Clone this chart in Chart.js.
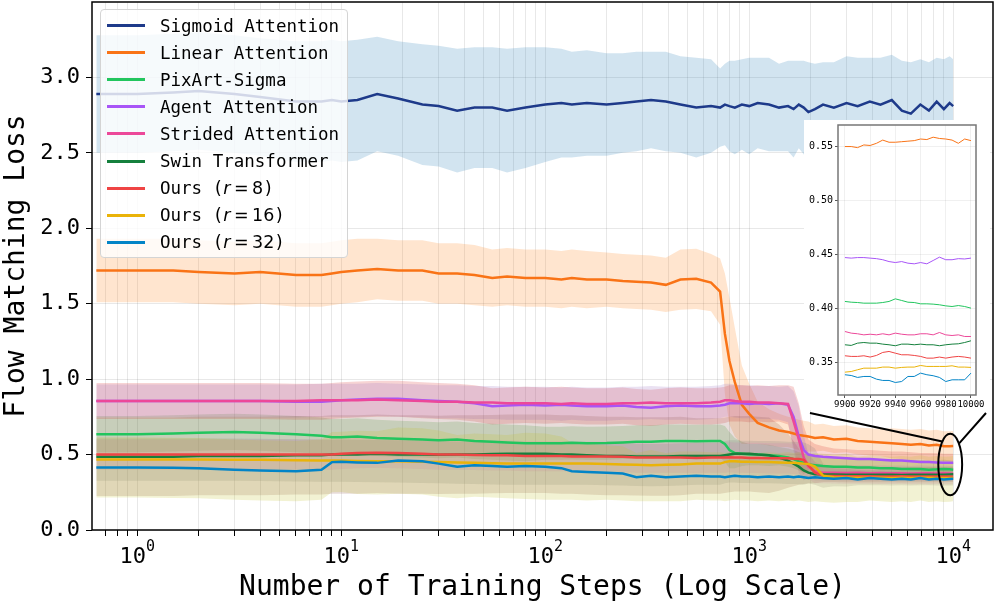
<!DOCTYPE html>
<html>
<head>
<meta charset="utf-8">
<script src="https://cdn.jsdelivr.net/npm/chart.js@4.4.1/dist/chart.umd.min.js"></script>
<style>
  body { margin: 0; background: #fff; }
  #wrap { position: relative; width: 997px; height: 606px; font-family: "DejaVu Sans Mono", monospace; }
  #main { position: absolute; left: 0; top: 0; }
  #inset { position: absolute; left: 804px; top: 120px; background: #fff; }
  #legend {
    position: absolute; left: 100px; top: 9px; width: 248px; height: 249px;
    box-sizing: border-box; border: 1px solid #d4d4d4; border-radius: 4px;
    background: rgba(255, 255, 255, 0.8); padding-top: 2px;
  }
  .item { height: 27.1px; display: flex; align-items: center; font-size: 17.5px; color: #000; white-space: pre; }
  .swatch { display: inline-block; width: 38px; height: 3px; margin-left: 6px; margin-right: 15px; }
  .m { font-family: "DejaVu Sans", sans-serif; }
</style>
</head>
<body>
<div id="wrap">
  <canvas id="main" width="997" height="606"></canvas>
  <canvas id="inset" width="186" height="290"></canvas>
  <div id="legend"></div>
</div>
<script>
const FONT = "'DejaVu Sans Mono', monospace";

const labels = ["Sigmoid Attention", "Linear Attention", "PixArt-Sigma", "Agent Attention",
  "Strided Attention", "Swin Transformer", "Ours (r = 8)", "Ours (r = 16)", "Ours (r = 32)"];
const lineColors = ["#1e3a8a", "#f97316", "#22c55e", "#a855f7", "#ec4899", "#15803d", "#ef4444", "#eab308", "#0284c7"];
// shaded std bands use the default tab10 cycle
const bandColors = ["rgba(31,119,180,0.2)", "rgba(255,127,14,0.2)", "rgba(44,160,44,0.2)", "rgba(214,39,40,0.2)",
  "rgba(148,103,189,0.2)", "rgba(140,86,75,0.2)", "rgba(227,119,194,0.2)", "rgba(127,127,127,0.2)", "rgba(188,189,34,0.2)"];

const steps = [0.63, 1, 1.5, 2, 3, 4, 6, 8, 9, 10,
  12, 15, 19, 25, 30, 37, 45, 55, 65, 80,
  100, 120, 135, 160, 200, 240, 280, 330, 390, 460,
  550, 650, 720, 760, 800, 850, 920, 1000, 1100, 1250,
  1400, 1550, 1650, 1750, 1850, 1950, 2100, 2300, 2600, 3000,
  3400, 3900, 4400, 5000, 5600, 6200, 6900, 7600, 8300, 9000,
  9600, 10000];

const sigmoidMean = [2.89, 2.89, 2.90, 2.91, 2.89, 2.87, 2.84, 2.84, 2.85, 2.84,
  2.85, 2.89, 2.86, 2.82, 2.81, 2.78, 2.80, 2.80, 2.78, 2.80,
  2.82, 2.83, 2.82, 2.83, 2.82, 2.83, 2.84, 2.85, 2.84, 2.82,
  2.80, 2.81, 2.80, 2.82, 2.81, 2.80, 2.82, 2.81, 2.83, 2.82,
  2.80, 2.81, 2.79, 2.82, 2.80, 2.77, 2.79, 2.82, 2.80, 2.83,
  2.81, 2.84, 2.82, 2.85, 2.78, 2.76, 2.82, 2.78, 2.84, 2.79,
  2.83, 2.81];
const sigmoidStd = [0.39, 0.39, 0.39, 0.39, 0.39, 0.39, 0.40, 0.40, 0.40, 0.40,
  0.40, 0.38, 0.38, 0.40, 0.40, 0.41, 0.40, 0.40, 0.41, 0.40,
  0.38, 0.36, 0.35, 0.35, 0.34, 0.33, 0.33, 0.32, 0.33, 0.32,
  0.33, 0.31, 0.26, 0.27, 0.30, 0.31, 0.30, 0.32, 0.30, 0.31,
  0.29, 0.30, 0.32, 0.29, 0.31, 0.33, 0.30, 0.28, 0.30, 0.31,
  0.32, 0.29, 0.31, 0.30, 0.33, 0.34, 0.30, 0.32, 0.29, 0.33,
  0.31, 0.31];

const linearMean = [1.72, 1.72, 1.72, 1.71, 1.70, 1.71, 1.69, 1.69, 1.70, 1.71,
  1.72, 1.73, 1.72, 1.72, 1.70, 1.70, 1.69, 1.67, 1.68, 1.67,
  1.67, 1.66, 1.67, 1.66, 1.66, 1.65, 1.645, 1.64, 1.625, 1.66,
  1.665, 1.64, 1.58, 1.30, 1.12, 0.98, 0.83, 0.77, 0.71, 0.68,
  0.66, 0.65, 0.64, 0.63, 0.625, 0.62, 0.61, 0.615, 0.60, 0.605,
  0.59, 0.585, 0.58, 0.575, 0.57, 0.565, 0.57, 0.56, 0.565, 0.555,
  0.555, 0.556];
const linearStd = [0.21, 0.21, 0.21, 0.21, 0.21, 0.21, 0.21, 0.21, 0.21, 0.21,
  0.21, 0.20, 0.20, 0.20, 0.20, 0.20, 0.20, 0.19, 0.19, 0.19,
  0.19, 0.19, 0.19, 0.19, 0.18, 0.18, 0.18, 0.18, 0.18, 0.20,
  0.20, 0.19, 0.22, 0.40, 0.42, 0.36, 0.26, 0.20, 0.14, 0.12,
  0.11, 0.10, 0.10, 0.10, 0.10, 0.10, 0.09, 0.09, 0.09, 0.09,
  0.09, 0.09, 0.09, 0.10, 0.10, 0.10, 0.10, 0.10, 0.10, 0.10,
  0.10, 0.10];

const pixartMean = [0.635, 0.635, 0.64, 0.645, 0.65, 0.645, 0.635, 0.625, 0.615, 0.615,
  0.62, 0.61, 0.605, 0.60, 0.595, 0.60, 0.59, 0.585, 0.58, 0.575,
  0.575, 0.575, 0.578, 0.575, 0.576, 0.58, 0.585, 0.585, 0.59, 0.59,
  0.588, 0.59, 0.59, 0.57, 0.53, 0.51, 0.505, 0.50, 0.50, 0.495,
  0.49, 0.48, 0.47, 0.455, 0.445, 0.435, 0.43, 0.425, 0.42, 0.42,
  0.415, 0.415, 0.41, 0.41, 0.405, 0.405, 0.405, 0.40, 0.402, 0.405,
  0.402, 0.40];
const pixartStd = [0.12, 0.12, 0.12, 0.12, 0.12, 0.12, 0.12, 0.12, 0.12, 0.12,
  0.12, 0.12, 0.12, 0.12, 0.12, 0.12, 0.12, 0.12, 0.12, 0.12,
  0.11, 0.11, 0.11, 0.11, 0.11, 0.11, 0.11, 0.11, 0.11, 0.11,
  0.11, 0.11, 0.11, 0.12, 0.12, 0.10, 0.08, 0.07, 0.07, 0.07,
  0.06, 0.06, 0.06, 0.06, 0.06, 0.06, 0.06, 0.06, 0.06, 0.06,
  0.06, 0.06, 0.06, 0.06, 0.06, 0.06, 0.06, 0.06, 0.06, 0.06,
  0.06, 0.06];

const agentMean = [0.855, 0.855, 0.855, 0.855, 0.855, 0.855, 0.85, 0.85, 0.855, 0.86,
  0.865, 0.87, 0.87, 0.86, 0.855, 0.85, 0.84, 0.82, 0.825, 0.83,
  0.825, 0.83, 0.825, 0.82, 0.82, 0.825, 0.815, 0.81, 0.82, 0.825,
  0.82, 0.82, 0.825, 0.83, 0.84, 0.84, 0.84, 0.835, 0.84, 0.835,
  0.84, 0.83, 0.75, 0.62, 0.53, 0.50, 0.49, 0.485, 0.48, 0.475,
  0.47, 0.47, 0.465, 0.46, 0.46, 0.455, 0.45, 0.45, 0.448, 0.446,
  0.445, 0.446];
const agentStd = [0.12, 0.12, 0.12, 0.12, 0.12, 0.12, 0.12, 0.12, 0.12, 0.12,
  0.12, 0.12, 0.12, 0.12, 0.12, 0.12, 0.12, 0.12, 0.12, 0.12,
  0.12, 0.12, 0.12, 0.12, 0.12, 0.12, 0.12, 0.12, 0.12, 0.12,
  0.12, 0.12, 0.12, 0.12, 0.12, 0.12, 0.12, 0.12, 0.12, 0.12,
  0.12, 0.13, 0.20, 0.22, 0.16, 0.10, 0.08, 0.07, 0.06, 0.06,
  0.06, 0.06, 0.06, 0.06, 0.06, 0.06, 0.06, 0.06, 0.06, 0.06,
  0.06, 0.06];

const stridedMean = [0.855, 0.855, 0.855, 0.855, 0.855, 0.855, 0.855, 0.86, 0.86, 0.86,
  0.86, 0.865, 0.86, 0.855, 0.85, 0.85, 0.845, 0.845, 0.84, 0.84,
  0.84, 0.835, 0.84, 0.835, 0.835, 0.84, 0.84, 0.845, 0.84, 0.84,
  0.84, 0.845, 0.85, 0.86, 0.86, 0.855, 0.85, 0.85, 0.845, 0.845,
  0.84, 0.835, 0.72, 0.60, 0.48, 0.42, 0.39, 0.38, 0.38, 0.378,
  0.38, 0.377, 0.378, 0.376, 0.377, 0.375, 0.377, 0.376, 0.375, 0.376,
  0.374, 0.373];
const stridedStd = [0.11, 0.11, 0.11, 0.11, 0.11, 0.11, 0.11, 0.11, 0.11, 0.11,
  0.11, 0.11, 0.11, 0.11, 0.11, 0.11, 0.11, 0.11, 0.11, 0.11,
  0.11, 0.11, 0.11, 0.11, 0.11, 0.11, 0.11, 0.11, 0.11, 0.11,
  0.11, 0.11, 0.11, 0.11, 0.11, 0.11, 0.11, 0.11, 0.11, 0.11,
  0.11, 0.12, 0.20, 0.22, 0.15, 0.08, 0.06, 0.05, 0.05, 0.05,
  0.05, 0.05, 0.05, 0.05, 0.05, 0.05, 0.05, 0.05, 0.05, 0.05,
  0.05, 0.05];

const swinMean = [0.485, 0.485, 0.485, 0.49, 0.49, 0.49, 0.495, 0.495, 0.50, 0.50,
  0.50, 0.505, 0.50, 0.50, 0.498, 0.50, 0.50, 0.503, 0.505, 0.505,
  0.505, 0.50, 0.50, 0.495, 0.49, 0.49, 0.488, 0.487, 0.487, 0.49,
  0.49, 0.49, 0.49, 0.495, 0.50, 0.505, 0.505, 0.505, 0.50, 0.495,
  0.48, 0.46, 0.44, 0.42, 0.395, 0.38, 0.37, 0.368, 0.368, 0.367,
  0.366, 0.367, 0.366, 0.366, 0.365, 0.366, 0.366, 0.367, 0.366, 0.366,
  0.368, 0.369];
const swinStd = [0.26, 0.26, 0.26, 0.26, 0.26, 0.26, 0.26, 0.26, 0.26, 0.26,
  0.26, 0.26, 0.26, 0.26, 0.26, 0.26, 0.26, 0.26, 0.26, 0.26,
  0.26, 0.26, 0.26, 0.26, 0.26, 0.26, 0.26, 0.26, 0.26, 0.26,
  0.25, 0.25, 0.25, 0.25, 0.25, 0.25, 0.25, 0.25, 0.25, 0.25,
  0.22, 0.18, 0.15, 0.12, 0.09, 0.07, 0.06, 0.05, 0.05, 0.05,
  0.05, 0.05, 0.05, 0.05, 0.05, 0.05, 0.05, 0.05, 0.05, 0.05,
  0.05, 0.05];

const ours8Mean = [0.50, 0.50, 0.50, 0.50, 0.50, 0.50, 0.50, 0.50, 0.50, 0.505,
  0.51, 0.512, 0.51, 0.505, 0.50, 0.50, 0.497, 0.495, 0.495, 0.49,
  0.49, 0.49, 0.488, 0.487, 0.487, 0.485, 0.48, 0.48, 0.48, 0.48,
  0.478, 0.48, 0.48, 0.48, 0.482, 0.48, 0.48, 0.478, 0.478, 0.475,
  0.475, 0.475, 0.472, 0.47, 0.465, 0.43, 0.38, 0.36, 0.358, 0.357,
  0.356, 0.357, 0.355, 0.355, 0.356, 0.354, 0.355, 0.354, 0.355, 0.354,
  0.354, 0.353];
const ours8Std = [0.10, 0.10, 0.10, 0.10, 0.10, 0.10, 0.10, 0.10, 0.10, 0.10,
  0.10, 0.10, 0.10, 0.10, 0.10, 0.10, 0.10, 0.10, 0.10, 0.10,
  0.10, 0.10, 0.10, 0.10, 0.10, 0.10, 0.10, 0.10, 0.10, 0.10,
  0.10, 0.10, 0.10, 0.10, 0.10, 0.10, 0.10, 0.10, 0.10, 0.10,
  0.10, 0.10, 0.10, 0.10, 0.10, 0.09, 0.07, 0.05, 0.05, 0.05,
  0.05, 0.05, 0.05, 0.05, 0.05, 0.05, 0.05, 0.05, 0.05, 0.05,
  0.05, 0.05];

const ours16Mean = [0.467, 0.467, 0.467, 0.467, 0.466, 0.465, 0.462, 0.46, 0.46, 0.46,
  0.458, 0.456, 0.455, 0.452, 0.45, 0.447, 0.445, 0.442, 0.44, 0.44,
  0.44, 0.44, 0.44, 0.44, 0.437, 0.435, 0.432, 0.43, 0.432, 0.435,
  0.44, 0.44, 0.44, 0.45, 0.455, 0.455, 0.452, 0.452, 0.45, 0.45,
  0.448, 0.445, 0.445, 0.443, 0.44, 0.438, 0.42, 0.36, 0.35, 0.348,
  0.347, 0.346, 0.346, 0.345, 0.346, 0.345, 0.346, 0.346, 0.345, 0.345,
  0.345, 0.345];
const ours16Std = [0.14, 0.14, 0.14, 0.14, 0.14, 0.14, 0.14, 0.14, 0.14, 0.14,
  0.14, 0.14, 0.14, 0.14, 0.14, 0.14, 0.14, 0.14, 0.14, 0.14,
  0.14, 0.14, 0.14, 0.14, 0.14, 0.14, 0.14, 0.14, 0.14, 0.14,
  0.14, 0.14, 0.14, 0.14, 0.14, 0.14, 0.14, 0.14, 0.14, 0.14,
  0.14, 0.14, 0.14, 0.14, 0.14, 0.13, 0.12, 0.08, 0.06, 0.06,
  0.05, 0.05, 0.05, 0.05, 0.05, 0.05, 0.05, 0.05, 0.05, 0.05,
  0.05, 0.05];

const ours32Mean = [0.415, 0.415, 0.412, 0.41, 0.40, 0.395, 0.39, 0.40, 0.45, 0.452,
  0.448, 0.445, 0.46, 0.455, 0.44, 0.42, 0.43, 0.425, 0.42, 0.425,
  0.42, 0.41, 0.39, 0.385, 0.38, 0.375, 0.35, 0.36, 0.35, 0.355,
  0.36, 0.355, 0.355, 0.35, 0.355, 0.36, 0.355, 0.355, 0.35, 0.355,
  0.35, 0.355, 0.35, 0.355, 0.35, 0.345, 0.35, 0.345, 0.34, 0.345,
  0.335, 0.345, 0.34, 0.335, 0.34, 0.335, 0.345, 0.335, 0.34, 0.335,
  0.338, 0.34];
const ours32Std = [0.20, 0.20, 0.20, 0.20, 0.20, 0.20, 0.20, 0.20, 0.20, 0.20,
  0.21, 0.21, 0.22, 0.22, 0.22, 0.21, 0.21, 0.21, 0.21, 0.22,
  0.22, 0.21, 0.19, 0.19, 0.18, 0.18, 0.16, 0.17, 0.16, 0.165,
  0.16, 0.16, 0.16, 0.16, 0.16, 0.16, 0.16, 0.16, 0.16, 0.16,
  0.16, 0.16, 0.16, 0.16, 0.16, 0.16, 0.16, 0.16, 0.16, 0.16,
  0.15, 0.15, 0.15, 0.15, 0.15, 0.15, 0.15, 0.15, 0.15, 0.15,
  0.15, 0.15];

const means = [sigmoidMean, linearMean, pixartMean, agentMean, stridedMean, swinMean, ours8Mean, ours16Mean, ours32Mean];
const stds = [sigmoidStd, linearStd, pixartStd, agentStd, stridedStd, swinStd, ours8Std, ours16Std, ours32Std];

// zoomed inset: last 100 steps (no sigmoid)
const insetSteps = [9900, 9905, 9910, 9915, 9920, 9925, 9930, 9935, 9940, 9945, 9950,
  9955, 9960, 9965, 9970, 9975, 9980, 9985, 9990, 9995, 10000];
const insetLinear = [0.550, 0.550, 0.549, 0.5515, 0.551, 0.553, 0.556, 0.554, 0.554, 0.5545, 0.555,
  0.5555, 0.557, 0.5565, 0.5587, 0.5575, 0.557, 0.556, 0.553, 0.557, 0.5555];
const insetPixart = [0.4063, 0.4056, 0.4053, 0.4047, 0.4047, 0.4047, 0.4053, 0.4063, 0.4087, 0.4072, 0.4056,
  0.4053, 0.4041, 0.4041, 0.4038, 0.4032, 0.4022, 0.4016, 0.4025, 0.4016, 0.4001];
const insetAgent = [0.447, 0.4465, 0.447, 0.447, 0.4465, 0.446, 0.445, 0.4433, 0.4424, 0.4433, 0.4418,
  0.4412, 0.4424, 0.4412, 0.4443, 0.4474, 0.445, 0.445, 0.446, 0.4457, 0.4465];
const insetStrided = [0.3784, 0.3769, 0.3763, 0.3753, 0.3759, 0.3753, 0.3763, 0.3753, 0.3769, 0.3759, 0.3753,
  0.3753, 0.3763, 0.3763, 0.3753, 0.3775, 0.3753, 0.3747, 0.3753, 0.3738, 0.3738];
const insetSwin = [0.3661, 0.3655, 0.3676, 0.3682, 0.3676, 0.3676, 0.3667, 0.3661, 0.3652, 0.3667, 0.3667,
  0.3661, 0.3667, 0.3661, 0.3661, 0.3652, 0.3661, 0.3667, 0.367, 0.3682, 0.3698];
const insetOurs8 = [0.3559, 0.3553, 0.3553, 0.3559, 0.3547, 0.3562, 0.359, 0.3599, 0.3583, 0.3568, 0.3568,
  0.3562, 0.3553, 0.3537, 0.3537, 0.3547, 0.3537, 0.3547, 0.3553, 0.3547, 0.3537];
const insetOurs16 = [0.3407, 0.3413, 0.3429, 0.3444, 0.3444, 0.3444, 0.3454, 0.3454, 0.3444, 0.3451, 0.3454,
  0.3454, 0.3469, 0.346, 0.346, 0.346, 0.346, 0.3466, 0.3454, 0.3454, 0.3451];
const insetOurs32 = [0.3383, 0.3376, 0.3358, 0.3367, 0.3367, 0.3342, 0.333, 0.333, 0.3311, 0.332, 0.3367,
  0.3367, 0.3398, 0.3383, 0.3374, 0.3358, 0.332, 0.3336, 0.3336, 0.3336, 0.3398];
const insetSeries = [insetLinear, insetPixart, insetAgent, insetStrided, insetSwin, insetOurs8, insetOurs16, insetOurs32];

// region circled on the main plot
const zoomRegion = { stepLo: 8450, stepHi: 11060, lossLo: 0.23, lossHi: 0.638 };

const xMin = 0.631, xMax = 15670;
const xTickValues = [];
for (let k = -1; k <= 4; k++) {
  for (let m = 1; m <= 9; m++) {
    const v = m * Math.pow(10, k);
    if (v >= xMin && v <= xMax) xTickValues.push(v);
  }
}
const yTickValues = [0, 0.5, 1.0, 1.5, 2.0, 2.5, 3.0];

const datasets = [];
labels.forEach((name, i) => {
  datasets.push({
    label: name,
    data: steps.map((s, j) => ({ x: s, y: means[i][j] })),
    borderColor: lineColors[i],
    borderWidth: 2.5,
    pointRadius: 0,
    tension: 0,
    fill: false,
    order: 8 - i
  });
});
labels.forEach((name, i) => {
  datasets.push({
    label: name + " std", band: true,
    data: steps.map((s, j) => ({ x: s, y: means[i][j] + stds[i][j] })),
    borderColor: "rgba(0,0,0,0)", borderWidth: 0, pointRadius: 0,
    backgroundColor: bandColors[i], fill: "+1", order: 100 - i
  });
  datasets.push({
    label: name + " std low", band: true,
    data: steps.map((s, j) => ({ x: s, y: means[i][j] - stds[i][j] })),
    borderColor: "rgba(0,0,0,0)", borderWidth: 0, pointRadius: 0,
    fill: false, order: 100 - i
  });
});

const framePlugin = {
  id: "frame",
  afterDatasetsDraw(chart, args, opts) {
    const { ctx, chartArea: a } = chart;
    ctx.save();
    ctx.strokeStyle = opts.color || "#000";
    ctx.lineWidth = opts.width || 1.5;
    ctx.strokeRect(a.left, a.top, a.right - a.left, a.bottom - a.top);
    ctx.restore();
  }
};

// decade labels like matplotlib's 10^k with a raised, smaller exponent
const decadeLabels = {
  id: "decadeLabels",
  afterDraw(chart) {
    const { ctx, scales: { x } } = chart;
    ctx.save();
    ctx.fillStyle = "#000";
    ctx.textBaseline = "alphabetic";
    ctx.textAlign = "left";
    xTickValues.forEach((v) => {
      const k = Math.round(Math.log10(v));
      if (Math.abs(Math.log10(v) - k) > 1e-9) return;
      const px = x.getPixelForValue(v);
      ctx.font = "22px " + FONT;
      const wb = ctx.measureText("10").width;
      ctx.font = "15px " + FONT;
      const we = ctx.measureText(String(k)).width;
      const start = px - (wb + we) / 2;
      ctx.font = "22px " + FONT;
      ctx.fillText("10", start, 563);
      ctx.font = "15px " + FONT;
      ctx.fillText(String(k), start + wb, 551);
    });
    ctx.restore();
  }
};

const insetCanvas = document.getElementById("inset");

const zoomMarkPlugin = {
  id: "zoomMark",
  afterDraw(chart) {
    const { ctx, scales: { x, y } } = chart;
    const x0 = x.getPixelForValue(zoomRegion.stepLo), x1 = x.getPixelForValue(zoomRegion.stepHi);
    const y0 = y.getPixelForValue(zoomRegion.lossHi), y1 = y.getPixelForValue(zoomRegion.lossLo);
    const cx = (x0 + x1) / 2, cy = (y0 + y1) / 2, rx = (x1 - x0) / 2, ry = (y1 - y0) / 2;
    ctx.save();
    ctx.strokeStyle = "#000";
    ctx.lineWidth = 2;
    ctx.beginPath();
    ctx.ellipse(cx, cy, rx, ry, 0, 0, Math.PI * 2);
    ctx.stroke();
    const bottom = insetCanvas.offsetTop + insetCanvas.offsetHeight + 3;
    const leftPt = [cx + rx * Math.cos(-2.3), cy + ry * Math.sin(-2.3)];
    const rightPt = [cx + rx * Math.cos(-0.75), cy + ry * Math.sin(-0.75)];
    ctx.beginPath();
    ctx.moveTo(insetCanvas.offsetLeft + 6, bottom);
    ctx.lineTo(leftPt[0], leftPt[1]);
    ctx.moveTo(insetCanvas.offsetLeft + insetCanvas.offsetWidth - 4, bottom);
    ctx.lineTo(rightPt[0], rightPt[1]);
    ctx.stroke();
    ctx.restore();
  }
};

const main = new Chart(document.getElementById("main"), {
  type: "line",
  data: { datasets: datasets },
  options: {
    responsive: false,
    animation: false,
    layout: { padding: { top: 2, right: 4, left: 0, bottom: 0 } },
    plugins: {
      legend: { display: false },
      tooltip: { enabled: false },
      frame: { color: "#000", width: 1.5 }
    },
    scales: {
      x: {
        type: "logarithmic",
        min: xMin,
        max: xMax,
        afterBuildTicks: (s) => { s.ticks = xTickValues.map((v) => ({ value: v })); },
        afterFit: (s) => { s.height = 76; s.paddingLeft = 0; s.paddingRight = 0; },
        grid: { color: "rgba(0,0,0,0.09)", tickColor: "#000", tickLength: 6, lineWidth: 1 },
        border: { display: false },
        ticks: { autoSkip: false, maxRotation: 0, padding: 2, callback: () => "" },
        title: {
          display: true, text: "Number of Training Steps (Log Scale)", color: "#000",
          font: { family: FONT, size: 28 }, padding: { top: 0, bottom: 1 }
        }
      },
      y: {
        min: 0,
        max: 3.5,
        afterBuildTicks: (s) => { s.ticks = yTickValues.map((v) => ({ value: v })); },
        afterFit: (s) => { s.width = 92; s.paddingTop = 0; s.paddingBottom = 0; },
        grid: { color: "rgba(0,0,0,0.09)", tickColor: "#000", tickLength: 6, lineWidth: 1 },
        border: { display: false },
        ticks: { padding: 6, color: "#000", font: { family: FONT, size: 22 }, callback: (v) => v.toFixed(1) },
        title: {
          display: true, text: "Flow Matching Loss", color: "#000",
          font: { family: FONT, size: 28 }, padding: { top: 0, bottom: 0 }
        }
      }
    }
  },
  plugins: [framePlugin, decadeLabels, zoomMarkPlugin]
});

// legend inside the plot, upper left
const legendEl = document.getElementById("legend");
main.data.datasets.filter((d) => !d.band).forEach((d) => {
  const row = document.createElement("div");
  row.className = "item";
  const sw = document.createElement("span");
  sw.className = "swatch";
  sw.style.background = d.borderColor;
  const txt = document.createElement("span");
  txt.innerHTML = d.label.replace(/\(r = (\d+)\)/, '(<span class="m"><i>r</i>&thinsp;=&thinsp;$1</span>)');
  row.appendChild(sw);
  row.appendChild(txt);
  legendEl.appendChild(row);
});

const insetDatasets = insetSeries.map((vals, k) => ({
  data: insetSteps.map((s, j) => ({ x: s, y: vals[j] })),
  borderColor: lineColors[k + 1],
  borderWidth: 1,
  pointRadius: 0,
  tension: 0,
  fill: false,
  order: 8 - k
}));

new Chart(insetCanvas, {
  type: "line",
  data: { datasets: insetDatasets },
  options: {
    responsive: false,
    animation: false,
    layout: { padding: { top: 5, right: 14, left: 0, bottom: 0 } },
    plugins: { legend: { display: false }, tooltip: { enabled: false }, frame: { color: "#777", width: 1.5 } },
    scales: {
      x: {
        type: "linear", min: 9894.5, max: 10004,
        afterBuildTicks: (s) => { s.ticks = [9900, 9920, 9940, 9960, 9980, 10000].map((v) => ({ value: v })); },
        afterFit: (s) => { s.height = 15; s.paddingLeft = 0; s.paddingRight = 0; },
        grid: { color: "rgba(0,0,0,0.06)", tickColor: "#555", tickLength: 3 },
        border: { display: false },
        ticks: { autoSkip: false, maxRotation: 0, padding: 1, color: "#000", font: { family: FONT, size: 9 }, callback: (v) => String(v) }
      },
      y: {
        min: 0.3195, max: 0.570,
        afterBuildTicks: (s) => { s.ticks = [0.35, 0.40, 0.45, 0.50, 0.55].map((v) => ({ value: v })); },
        afterFit: (s) => { s.width = 34; s.paddingTop = 0; s.paddingBottom = 0; },
        grid: { color: "rgba(0,0,0,0.06)", tickColor: "#555", tickLength: 3 },
        border: { display: false },
        ticks: { padding: 2, color: "#000", font: { family: FONT, size: 10 }, callback: (v) => v.toFixed(2) }
      }
    }
  },
  plugins: [framePlugin]
});
</script>
</body>
</html>
